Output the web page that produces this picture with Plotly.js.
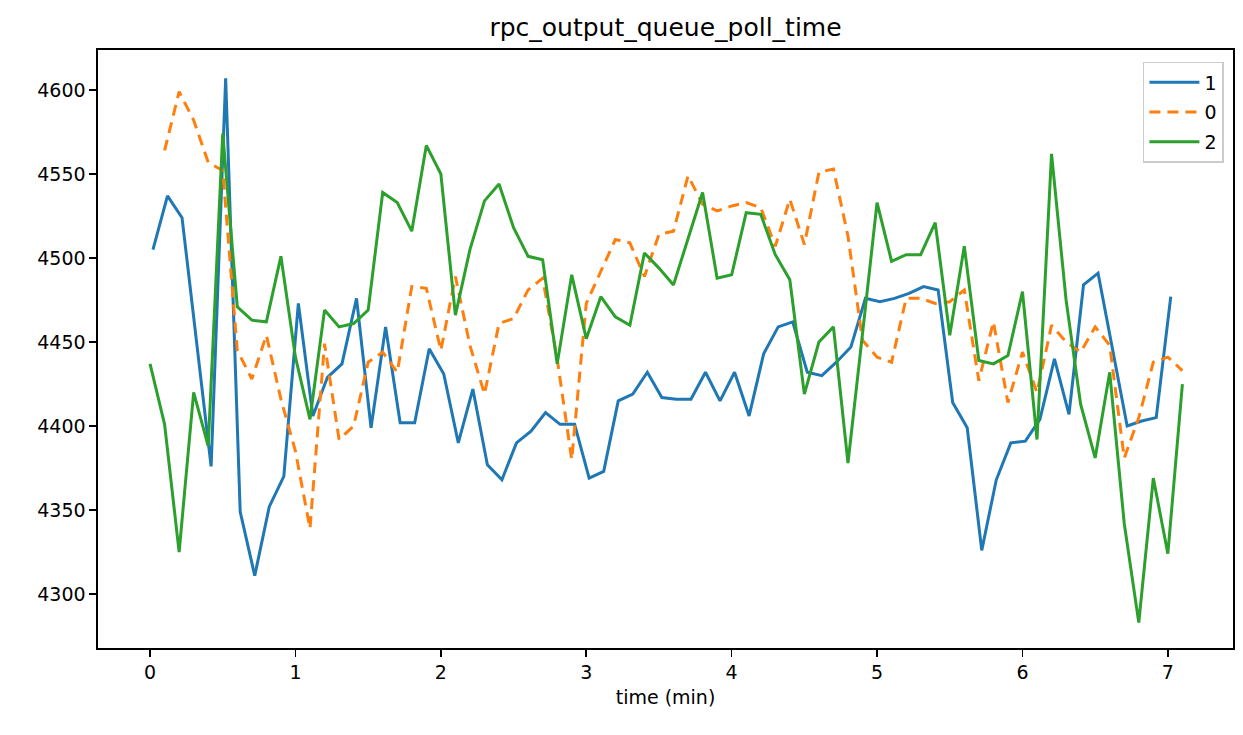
<!DOCTYPE html>
<html>
<head>
<meta charset="utf-8">
<script src="https://cdn.plot.ly/plotly-3.0.1.min.js"></script>
<style>html,body{margin:0;padding:0;background:#fff;}#chart{width:1243px;height:735px;}</style>
</head>
<body>
<div id="chart"></div>
<script>
// series "1"
const time1 = [0.02,0.12,0.22,0.32,0.42,0.52,0.62,0.72,0.82,0.92,1.02,1.12,1.22,1.32,1.42,1.52,1.62,1.72,1.82,1.92,2.02,2.12,2.22,2.32,2.42,2.52,2.62,2.72,2.82,2.92,3.02,3.12,3.22,3.32,3.42,3.52,3.62,3.72,3.82,3.92,4.02,4.12,4.22,4.32,4.42,4.52,4.62,4.72,4.82,4.92,5.02,5.12,5.22,5.32,5.42,5.52,5.62,5.72,5.82,5.92,6.02,6.12,6.22,6.32,6.42,6.52,6.62,6.72,6.82,6.92,7.02];
const values1 = [4505,4537,4524,4450,4376,4607,4349,4311,4352,4370,
  4473,4406,4429,4437,4476,4399,4459,4402,4402,4446,
  4431,4390,4422,4377,4368,4390,4397,4408,4401,4401,
  4369,4373,4415,4419,4432,4417,4416,4416,4432,4415,
  4432,4406,4443,4459,4462,4432,4430,4438,4447,4476,
  4474,4476,4479,4483,4481,4414,4399,4326,4368,4390,
  4391,4404,4440,4407,4484,4491,4445,4400,4403,4405,
  4477];
// series "0"
const time0 = [0.1,0.2,0.3,0.4,0.5,0.6,0.7,0.8,0.9,1.0,1.1,1.2,1.3,1.4,1.5,1.6,1.7,1.8,1.9,2.0,2.1,2.2,2.3,2.4,2.5,2.6,2.7,2.8,2.9,3.0,3.1,3.2,3.3,3.4,3.5,3.6,3.7,3.8,3.9,4.0,4.1,4.2,4.3,4.4,4.5,4.6,4.7,4.8,4.9,5.0,5.1,5.2,5.3,5.4,5.5,5.6,5.7,5.8,5.9,6.0,6.1,6.2,6.3,6.4,6.5,6.6,6.7,6.8,6.9,7.0,7.1];
const values0 = [4564,4599,4582,4557,4552,4445,4428,4454,4416,4385,
  4339,4449,4392,4400,4438,4444,4432,4483,4482,4445,
  4489,4448,4419,4461,4464,4481,4488,4440,4380,4473,
  4492,4511,4509,4489,4514,4516,4549,4532,4528,4531,
  4533,4530,4507,4535,4508,4551,4553,4513,4451,4441,
  4438,4476,4476,4473,4474,4481,4427,4462,4414,4444,
  4420,4460,4450,4444,4459,4448,4381,4405,4438,4441,
  4433];
// series "2"
const time2 = [0.0,0.1,0.2,0.3,0.4,0.5,0.6,0.7,0.8,0.9,1.0,1.1,1.2,1.3,1.4,1.5,1.6,1.7,1.8,1.9,2.0,2.1,2.2,2.3,2.4,2.5,2.6,2.7,2.8,2.9,3.0,3.1,3.2,3.3,3.4,3.5,3.6,3.7,3.8,3.9,4.0,4.1,4.2,4.3,4.4,4.5,4.6,4.7,4.8,4.9,5.0,5.1,5.2,5.3,5.4,5.5,5.6,5.7,5.8,5.9,6.0,6.1,6.2,6.3,6.4,6.5,6.6,6.7,6.8,6.9,7.0,7.1];
const values2 = [4437,4401,4325,4420,4388,4574,4471,4463,4462,4501,
  4441,4404,4469,4459,4461,4469,4539,4533,4516,4567,
  4550,4466,4505,4534,4544,4518,4501,4499,4437,4490,
  4452,4477,4465,4460,4503,4494,4484,4511,4539,4488,
  4490,4527,4526,4502,4487,4419,4450,4459,4378,4455,
  4533,4498,4502,4502,4521,4454,4507,4439,4437,4442,
  4480,4392,4562,4475,4413,4381,4432,4342,4283,4369,
  4324,4425];
const xTicks = [0,1,2,3,4,5,6,7];
const yTicks = [4300,4350,4400,4450,4500,4550,4600];

const FONT = "DejaVu Sans, sans-serif";
const traces = [
  {x: time1, y: values1, name: "1", mode: "lines", legendgroup: "a",
   line: {color: "#1f77b4", width: 3}},
  {x: time0, y: values0, name: "0", mode: "lines", legendgroup: "b",
   line: {color: "#ff7f0e", width: 3, dash: "11px,7px"}},
  {x: time2, y: values2, name: "2", mode: "lines", legendgroup: "c",
   line: {color: "#2ca02c", width: 3}}
];
const axisCommon = {
  showline: true, linecolor: "#000", linewidth: 1.6, mirror: true,
  ticks: "outside", ticklen: 7, tickwidth: 1.6, tickcolor: "#000",
  showgrid: false, zeroline: false,
  tickfont: {family: FONT, size: 19, color: "#000"}
};
const layout = {
  width: 1243, height: 735,
  margin: {l: 98, r: 10, t: 50, b: 87},
  paper_bgcolor: "#fff", plot_bgcolor: "#fff",
  font: {family: FONT, color: "#000"},
  title: {text: "rpc_output_queue_poll_time", font: {family: FONT, size: 25, color: "#000"},
          x: 0.5, xref: "paper", y: 1 - 27/735, yref: "container", yanchor: "middle"},
  xaxis: Object.assign({}, axisCommon, {
    range: [-0.358, 7.448], tickvals: xTicks, ticktext: xTicks.map(String),
    title: {text: "time (min)", font: {family: FONT, size: 19, color: "#000"}, standoff: 8}
  }),
  yaxis: Object.assign({}, axisCommon, {
    range: [4267.9, 4623.8], tickvals: yTicks, ticktext: yTicks.map(String)
  }),
  showlegend: true,
  legend: {x: 0.992, xanchor: "right", y: 0.98, yanchor: "top",
           bgcolor: "rgba(255,255,255,0.8)", bordercolor: "#cccccc", borderwidth: 1.5,
           font: {family: FONT, size: 19, color: "#000"}, itemwidth: 50,
           traceorder: "grouped", tracegroupgap: 2}
};
Plotly.newPlot("chart", traces, layout, {displayModeBar: false, staticPlot: true});
</script>
</body>
</html>
